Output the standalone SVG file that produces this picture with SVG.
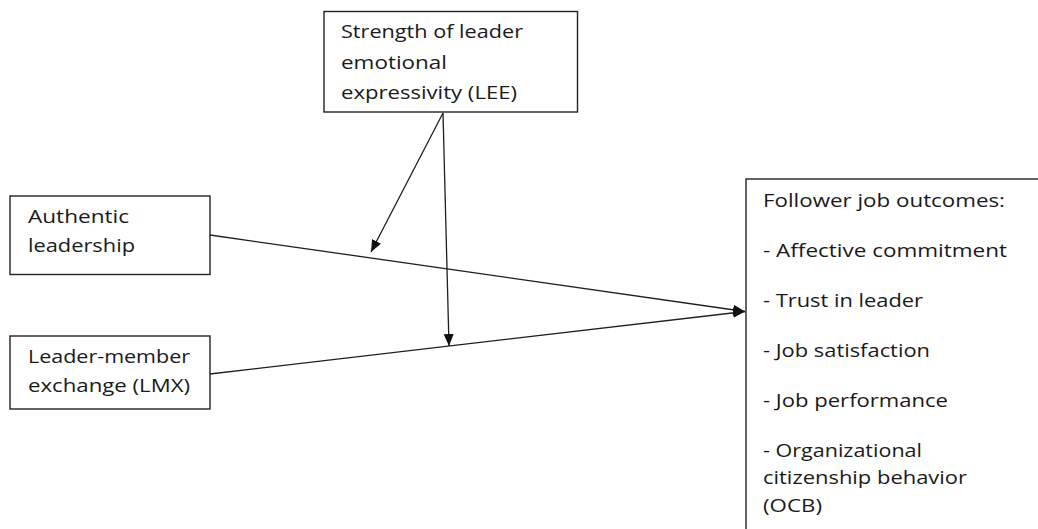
<svg xmlns="http://www.w3.org/2000/svg" width="1038" height="529" viewBox="0 0 1038 529">
<style>
.box{fill:#fff;stroke:#222;stroke-width:1.4}
.t{font-family:"Open Sans","Liberation Sans",sans-serif;font-size:18px;font-weight:500;fill:#1a1a1a}
.c{stroke:#1e1e1e;stroke-width:1.3;fill:none}
</style>
<defs>
<marker id="ah" markerWidth="12" markerHeight="11" refX="12" refY="5.5" orient="auto" markerUnits="userSpaceOnUse" viewBox="0 0 12 11">
<path d="M0,0.5 L12,5.5 L0,10.5 z" fill="#111"/>
</marker>
</defs>
<rect width="1038" height="529" fill="#fff"/>
<g id="connectors">
<line class="c" x1="210" y1="235" x2="745" y2="311.5" marker-end="url(#ah)"/>
<line class="c" x1="210" y1="374" x2="745" y2="311.5" marker-end="url(#ah)"/>
<line class="c" x1="443" y1="113" x2="371" y2="252" marker-end="url(#ah)"/>
<line class="c" x1="443" y1="113" x2="449" y2="346" marker-end="url(#ah)"/>
</g>
<g id="lee">
<rect class="box" x="324" y="11.5" width="253.5" height="100.5"/>
<text class="t" x="341" y="38" textLength="182" lengthAdjust="spacingAndGlyphs">Strength of leader</text>
<text class="t" x="341" y="68.5" textLength="106" lengthAdjust="spacingAndGlyphs">emotional</text>
<text class="t" x="341" y="99" textLength="176" lengthAdjust="spacingAndGlyphs">expressivity (LEE)</text>
</g>
<g id="authentic">
<rect class="box" x="10" y="196" width="200" height="78.5"/>
<text class="t" x="28" y="223" textLength="101" lengthAdjust="spacingAndGlyphs">Authentic</text>
<text class="t" x="28" y="252" textLength="107" lengthAdjust="spacingAndGlyphs">leadership</text>
</g>
<g id="lmx">
<rect class="box" x="10" y="336" width="200" height="73"/>
<text class="t" x="28" y="363" textLength="162" lengthAdjust="spacingAndGlyphs">Leader-member</text>
<text class="t" x="28" y="392" textLength="162" lengthAdjust="spacingAndGlyphs">exchange (LMX)</text>
</g>
<g id="outcomes">
<rect class="box" x="746" y="179" width="320" height="380"/>
<text class="t" x="763" y="207" textLength="242" lengthAdjust="spacingAndGlyphs">Follower job outcomes:</text>
<text class="t" x="763" y="257" textLength="244" lengthAdjust="spacingAndGlyphs">- Affective commitment</text>
<text class="t" x="763" y="307" textLength="160" lengthAdjust="spacingAndGlyphs">- Trust in leader</text>
<text class="t" x="763" y="357" textLength="167" lengthAdjust="spacingAndGlyphs">- Job satisfaction</text>
<text class="t" x="763" y="407" textLength="185" lengthAdjust="spacingAndGlyphs">- Job performance</text>
<text class="t" x="763" y="457" textLength="159" lengthAdjust="spacingAndGlyphs">- Organizational</text>
<text class="t" x="763" y="484" textLength="204" lengthAdjust="spacingAndGlyphs">citizenship behavior</text>
<text class="t" x="763" y="512" textLength="59" lengthAdjust="spacingAndGlyphs">(OCB)</text>
</g>
</svg>
